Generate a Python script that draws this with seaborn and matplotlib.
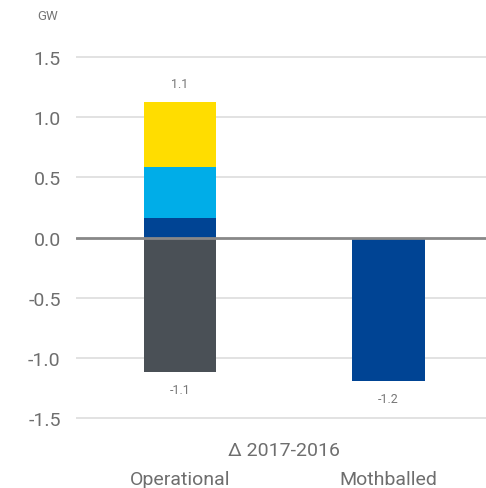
import matplotlib
matplotlib.use("Agg")
import matplotlib.pyplot as plt
import seaborn as sns
import pandas as pd
import numpy as np

# Values (GW, change 2017 vs 2016)
categories = ["Operational", "Mothballed"]
grey_vals = [-1.12, 0.0]
darkblue_vals = [0.16, -1.19]
lightblue_vals = [0.43, 0.0]
yellow_vals = [0.54, 0.0]
total_labels = {"Operational": ["1.1", "-1.1"], "Mothballed": [None, "-1.2"]}
tick_values = [-1.5, -1.0, -0.5, 0.0, 0.5, 1.0, 1.5]

colors = {"grey": "#4a5056", "darkblue": "#004494", "lightblue": "#00ade8", "yellow": "#ffdd00"}
text_col = "#6e6e6e"
small_col = "#777777"

sns.set_style("white")
plt.rcParams["font.family"] = ["Roboto", "DejaVu Sans"]

fig = plt.figure(figsize=(4.86, 4.89), dpi=100)
ax = fig.add_axes([76 / 486, 1 - 425 / 489, 410 / 486, 373 / 489])

# stack positives and negatives separately, draw tallest first so segments overlap
layers = [("grey", grey_vals), ("darkblue", darkblue_vals),
          ("lightblue", lightblue_vals), ("yellow", yellow_vals)]
pos = np.zeros(len(categories))
neg = np.zeros(len(categories))
tops = []
for name, vals in layers:
    vals = np.array(vals)
    pos = pos + np.where(vals > 0, vals, 0)
    neg = neg + np.where(vals < 0, vals, 0)
    tops.append((name, pos.copy(), neg.copy()))

for name, p, n in reversed(tops):
    df = pd.DataFrame({"cat": categories, "val": p})
    sns.barplot(data=df, x="cat", y="val", order=categories, color=colors[name],
                width=0.35, saturation=1, linewidth=0, antialiased=False, ax=ax, zorder=2)
for name, p, n in reversed(tops):
    df = pd.DataFrame({"cat": categories, "val": n})
    sns.barplot(data=df, x="cat", y="val", order=categories, color=colors[name],
                width=0.35, saturation=1, linewidth=0, antialiased=False, ax=ax, zorder=2)

pos_total = tops[-1][1]
neg_total = tops[-1][2]
for i, cat in enumerate(categories):
    up, down = total_labels[cat]
    if up:
        ax.annotate(up, (i, pos_total[i]), xytext=(0, 8), textcoords="offset points",
                    ha="center", va="bottom", fontsize=9, color=small_col)
    if down:
        ax.annotate(down, (i, neg_total[i]), xytext=(0, -8), textcoords="offset points",
                    ha="center", va="top", fontsize=9, color=small_col)

ax.set_xlim(-0.5, 1.47)
ax.set_ylim(-1.55, 1.55)
ax.set_yticks(tick_values)
ax.set_yticklabels([f"{t:.1f}" for t in tick_values])
for t in tick_values:
    if t != 0:
        ax.axhline(t, color="#dddddd", lw=1.2, zorder=0)
ax.axhline(0, color="#888888", lw=2, zorder=3)

for s in ax.spines.values():
    s.set_visible(False)
ax.tick_params(axis="y", length=0, pad=11, labelsize=14, labelcolor=text_col)
ax.tick_params(axis="x", length=0, pad=33, labelsize=14, labelcolor=text_col)
ax.set_xlabel("")
ax.set_ylabel("")

ax.text(0.5, -1.69, "\u0394 2017-2016", ha="center", va="top",
        fontsize=14, color=text_col)
fig.text(48 / 486, 1 - 16 / 489, "GW", ha="center", va="center", fontsize=9.5,
         color=small_col)

fig.savefig("out.png", dpi=100)
